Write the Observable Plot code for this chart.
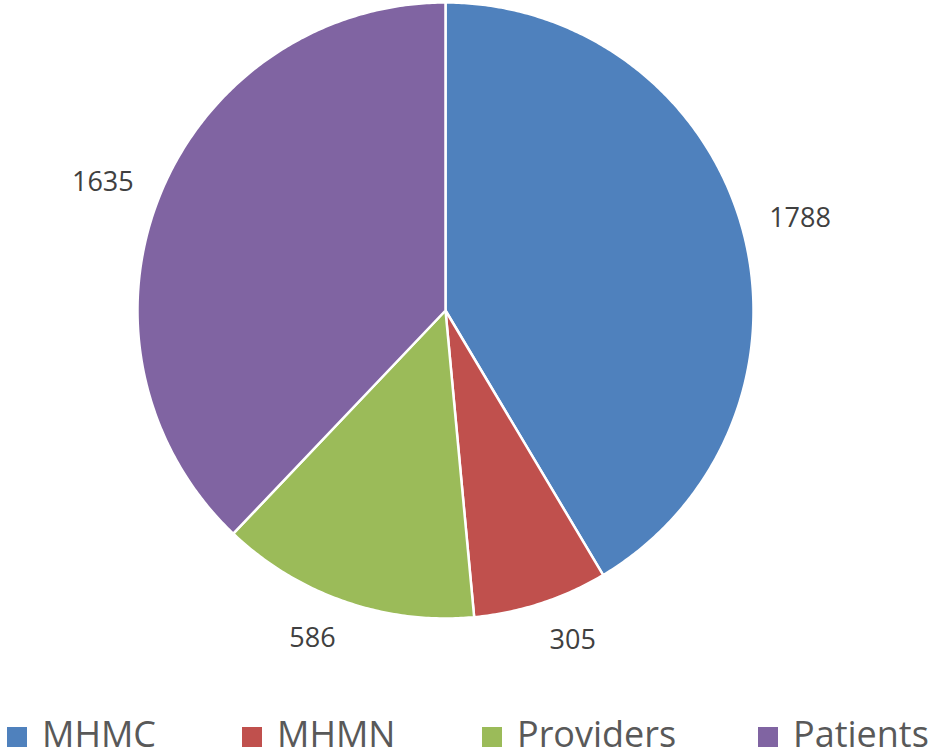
<!DOCTYPE html>
<html><head><meta charset="utf-8">
<script src="https://cdn.jsdelivr.net/npm/d3@7"></script>
<script src="https://cdn.jsdelivr.net/npm/@observablehq/plot@0.6"></script>
<style>
body{margin:0;background:#fff;width:930px;height:754px;overflow:hidden;position:relative;font-family:"Open Sans",sans-serif;}
#chart{position:absolute;left:0;top:0;}
.leg{position:absolute;top:716px;font-size:36px;color:#595959;white-space:nowrap;line-height:36px;font-family:"Open Sans",sans-serif;}
.sw{position:absolute;width:20px;height:20px;top:727px;}
</style></head><body>
<div id="chart"></div>
<div id="legend"></div>
<script>
const categories = ["MHMC","MHMN","Providers","Patients"];
const values = [1788, 305, 586, 1635];
const colors = ["#4F81BD","#C0504D","#9BBB59","#8064A2"];

const total = d3.sum(values);
const poly = [];
const labels = [];
let acc = 0;
categories.forEach((c,i)=>{
  const a0 = acc/total*2*Math.PI;
  acc += values[i];
  const a1 = acc/total*2*Math.PI;
  poly.push({cat:c,x:0,y:0});
  const n = Math.max(2, Math.ceil((a1-a0)/(Math.PI/360)));
  for(let k=0;k<=n;k++){
    const a = a0+(a1-a0)*k/n;
    poly.push({cat:c,x:Math.sin(a),y:Math.cos(a)});
  }
  poly.push({cat:c,x:0,y:0});
  const am=(a0+a1)/2;
  labels.push({cat:c,v:values[i],x:1.09*Math.sin(am),y:1.125*Math.cos(am),right:Math.sin(am)>=0});
});

const cx=445, cy=310, r=308;
const labelStyle = {x:"x",y:"y",text:d=>String(d.v),fontSize:27,fill:"#404040",fontFamily:"Open Sans"};
const plot = Plot.plot({
  width:930, height:705,
  x:{domain:[-1,1], range:[cx-r,cx+r], axis:null},
  y:{domain:[-1,1], range:[cy+r,cy-r], axis:null},
  color:{domain:categories, range:colors},
  marks:[
    Plot.line(poly,{x:"x",y:"y",z:"cat",fill:"cat",stroke:"white",strokeWidth:2.5,curve:"linear"}),
    Plot.text(labels.filter(d=>d.right),{...labelStyle,textAnchor:"start"}),
    Plot.text(labels.filter(d=>!d.right),{...labelStyle,textAnchor:"end"})
  ],
  style:{fontFamily:"Open Sans",background:"white",overflow:"visible"}
});
document.getElementById("chart").appendChild(plot);

const legX=[7,242,482,758];
const leg=document.getElementById("legend");
categories.forEach((c,i)=>{
  const s=document.createElement("div");s.className="sw";s.style.left=legX[i]+"px";s.style.background=colors[i];leg.appendChild(s);
  const t=document.createElement("div");t.className="leg";t.style.left=(legX[i]+35)+"px";t.textContent=c;leg.appendChild(t);
});
</script></body></html>
